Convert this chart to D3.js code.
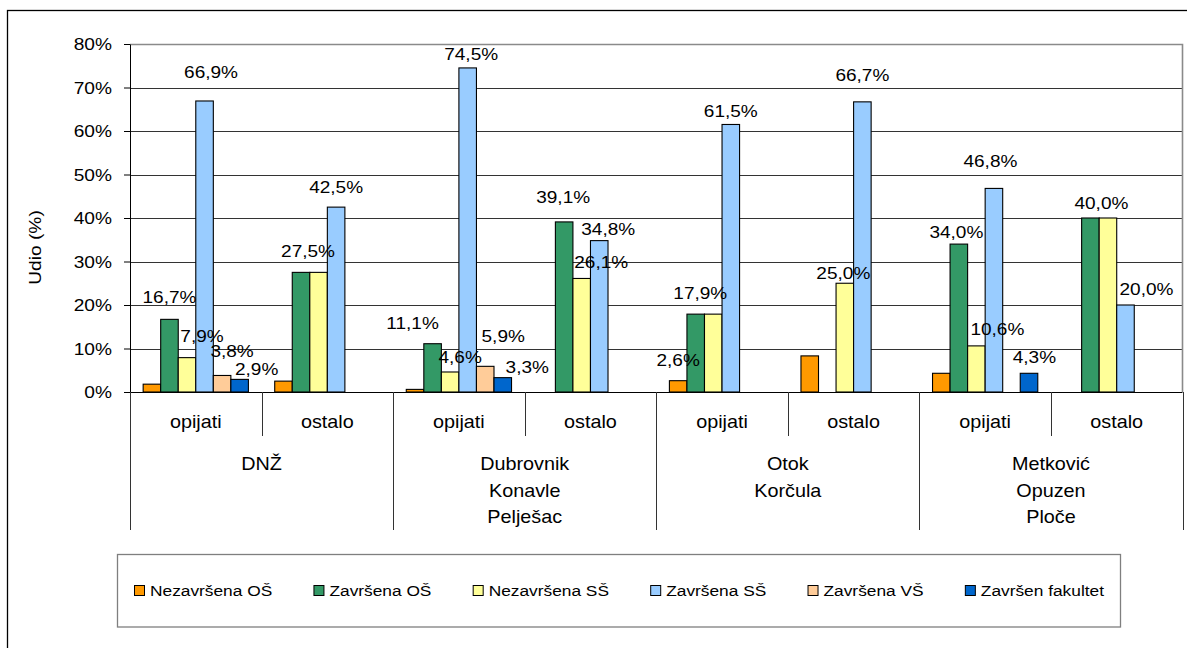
<!DOCTYPE html>
<html><head><meta charset="utf-8">
<script src="https://cdn.jsdelivr.net/npm/d3@7"></script>
<style>
body{margin:0;background:#fff;}
text{font-family:"Liberation Sans",Arial,sans-serif;fill:#000;}
</style></head>
<body><svg id="c" width="1187" height="648"></svg>
<script>
// ---- data ----
const regions = [["DNŽ"], ["Dubrovnik","Konavle","Pelješac"], ["Otok","Korčula"], ["Metković","Opuzen","Ploče"]];
const subcategories = ["opijati","ostalo"];
const seriesNames = ["Nezavršena OŠ","Završena OŠ","Nezavršena SŠ","Završena SŠ","Završena VŠ","Završen fakultet"];
const nezavrsenaOS   = [1.8, 2.5, 0.6, 0,    2.6,  8.3, 4.3, 0];
const zavrsenaOS     = [16.7,27.5,11.1,39.1,17.9, 0,   34.0,40.0];
const nezavrsenaSS   = [7.9, 27.5,4.6, 26.1,17.9, 25.0,10.6,40.0];
const zavrsenaSS     = [66.9,42.5,74.5,34.8,61.5, 66.7,46.8,20.0];
const zavrsenaVS     = [3.8, 0,   5.9, 0,   0,    0,   0,   0];
const zavrsenFakultet= [2.9, 0,   3.3, 0,   0,    0,   4.3, 0];
const yTicks = [0,10,20,30,40,50,60,70,80];
const colors = ["#FF9900","#339966","#FFFF99","#99CCFF","#FFCC99","#0066CC"];
// which bars carry a data label: [category index, series index], with nudges (layout only)
const labelled = [[0,1],[0,2],[0,3],[0,4],[0,5],[1,1],[1,3],[2,1],[2,2],[2,3],[2,4],[2,5],
                  [3,1],[3,2],[3,3],[4,0],[4,1],[4,3],[5,2],[5,3],[6,1],[6,2],[6,3],[6,5],[7,1],[7,3]];
const labelNudge = [[0,16],[15,15.6],[6.5,23],[10,18.5],[17,4.4],[7,15.4],[0,14],[-20,14.7],[10,9],[3.5,8],[18,24],[24.5,4.6],
                  [-1,19],[19.5,10.5],[9,5.6],[0,14.7],[4.6,15],[0,7.5],[-1.5,4],[0,21],[-2.5,6],[21,11],[-3.5,21],[5.4,10],[11,9],[21,10]];

const series = [nezavrsenaOS,zavrsenaOS,nezavrsenaSS,zavrsenaSS,zavrsenaVS,zavrsenFakultet];
const cats = d3.range(regions.length*subcategories.length);

const svg = d3.select("#c");
const L=130, R=1182.5, T=44, B=392;
const y = d3.scaleLinear().domain([0,80]).range([B,T]);
const x0 = d3.scaleBand().domain(cats).range([L,R]);
const x1 = d3.scaleBand().domain(d3.range(series.length)).range([0,x0.bandwidth()]).paddingInner(0).paddingOuter(0.75);

function txt(sel,x,yy,s,size,sx,anchor){
  return sel.append("text").attr("transform",`translate(${x},${yy}) scale(${sx},1)`)
    .attr("text-anchor",anchor||"middle").attr("font-size",size).text(s);
}

// outer frame
svg.append("rect").attr("x",7.5).attr("y",10.5).attr("width",1300).attr("height",700)
  .attr("fill","none").attr("stroke","#000").attr("stroke-width",1.3);

// gridlines
svg.append("g").selectAll("line").data(yTicks.filter(d=>d>0&&d<80)).join("line")
  .attr("x1",L).attr("x2",R).attr("y1",d=>Math.round(y(d))+0.5).attr("y2",d=>Math.round(y(d))+0.5)
  .attr("stroke","#333").attr("stroke-width",1);
// plot area border (top/right)
svg.append("path").attr("d",`M${L},${T+0.5}H${R}V${B}`).attr("fill","none").attr("stroke","#8a8a8a").attr("stroke-width",1.6);

// bars
const barData = [];
series.forEach((vals,s)=>vals.forEach((v,c)=>{ if(v>0) barData.push({c,s,v}); }));
svg.append("g").selectAll("rect").data(barData).join("rect")
  .attr("x",d=>x0(d.c)+x1(d.s)).attr("width",x1.bandwidth())
  .attr("y",d=>y(d.v)).attr("height",d=>y(0)-y(d.v))
  .attr("fill",d=>colors[d.s]).attr("stroke","#000").attr("stroke-width",1.1);

// y axis
const ya = svg.append("g").attr("transform",`translate(${L},0)`)
  .call(d3.axisLeft(y).tickValues(yTicks).tickSize(6).tickSizeOuter(0).tickFormat(d=>d+"%"));
ya.select(".domain").attr("stroke","#000");
ya.selectAll(".tick line").attr("stroke","#000");
ya.selectAll(".tick text").attr("font-size",16.5).attr("font-family",null)
  .attr("x",-18/1.16).attr("transform","scale(1.16,1)").attr("dy","0.36em").attr("fill","#000");

// category axis
svg.append("line").attr("x1",L).attr("x2",R).attr("y1",B+0.5).attr("y2",B+0.5).attr("stroke","#000");
const bounds = cats.concat([cats.length]);
svg.append("g").selectAll("line").data(bounds).join("line")
  .attr("x1",i=>Math.round(L+i*x0.step())+0.5).attr("x2",i=>Math.round(L+i*x0.step())+0.5)
  .attr("y1",B).attr("y2",i=>i%subcategories.length===0?530:436)
  .attr("stroke","#333").attr("stroke-width",1);
cats.forEach(c=>{
  txt(svg, x0(c)+x0.bandwidth()/2, 428, subcategories[c%subcategories.length], 18, 1.1);
});
regions.forEach((lines,r)=>{
  const cx = L + (r*subcategories.length+subcategories.length/2)*x0.step();
  lines.forEach((ln,i)=>txt(svg,cx,470+i*26.5,ln,18,1.1));
});

// y title
svg.append("text").attr("transform","translate(41,247.5) rotate(-90) scale(1.13,1)")
  .attr("text-anchor","middle").attr("font-size",17).text("Udio (%)");

// data labels
const fmt = v=>d3.format(".1f")(v).replace(".",",")+"%";
labelled.forEach(([c,s],i)=>{
  const v = series[s][c];
  const [dx,dy] = labelNudge[i];
  txt(svg, x0(c)+x1(s)+x1.bandwidth()/2+dx, y(v)-dy, fmt(v), 17, 1.12);
});

// legend
const lg = svg.append("g");
lg.append("rect").attr("x",117.5).attr("y",554.5).attr("width",1003).attr("height",72.5)
  .attr("fill","#fff").attr("stroke","#7f7f7f").attr("stroke-width",1.3);
const LS = 1.14;
const items = seriesNames.map((n,i)=>{
  const t = txt(lg, 0, 596, n, 15.2, LS, "start");
  return {t, w: t.node().getComputedTextLength()*LS};
});
const startX = 134.5, endX = 1107;
const totalW = d3.sum(items, d=>16+d.w);
const gap = (endX-startX-totalW)/(items.length-1);
let lx = startX;
items.forEach((it,i)=>{
  lg.append("rect").attr("x",lx).attr("y",585.5).attr("width",10).attr("height",10)
    .attr("fill",colors[i]).attr("stroke","#000").attr("stroke-width",1);
  it.t.attr("transform",`translate(${lx+15.5},596) scale(${LS},1)`);
  lx += 15.5 + it.w + gap;
});
</script></body></html>
